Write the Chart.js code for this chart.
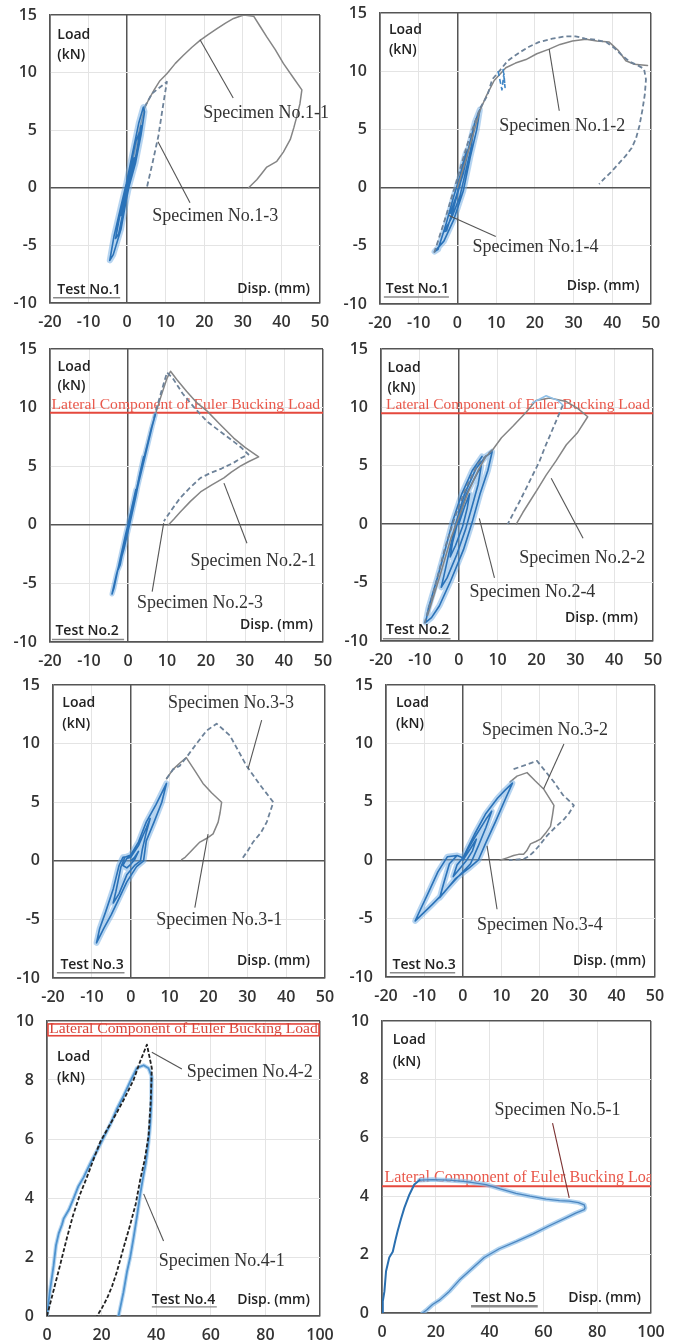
<!DOCTYPE html>
<html>
<head>
<meta charset="utf-8">
<script src="https://cdn.jsdelivr.net/npm/chart.js@4.4.1/dist/chart.umd.min.js"></script>
<style>
html,body{margin:0;padding:0;background:#fff;}
#page{position:relative;width:673px;height:1343px;overflow:hidden;background:#fff;}
#page canvas{position:absolute;}
</style>
</head>
<body>
<div id="page"></div>
<script>
// tick labels
const xTicks50 = [-20,-10,0,10,20,30,40,50];
const yTicks15 = [-10,-5,0,5,10,15];
const xTicks100 = [0,20,40,60,80,100];
const yTicks10 = [0,2,4,6,8,10];

// lateral component of Euler buckling load (kN)
const eulerTest2 = 9.55;
const eulerTest4 = [9.5, 9.9];
const eulerTest5 = 4.34;

// Test No.1 (left): No.1-1 solid, No.1-3 dashed + cycles
const p1Gray = [[0,0],[1.5,2.4],[3,4.8],[4.5,6.9],[5.5,7.6],[7,8.5],[8.5,9.3],[10.3,9.9],[12.5,10.8],[14.6,11.5],[16.8,12.2],[18.9,12.8],[21,13.3],[23.2,13.8],[25.5,14.3],[27.6,14.7],[30.2,15],[32.8,14.9],[34.5,14],[36.2,13.1],[38.4,12],[40.5,10.8],[43,9.6],[45.3,8.5],[44.8,7.3],[44,6.2],[43.2,5.2],[42.3,4.2],[40.5,3.1],[38.8,2.3],[36.2,1.8],[34.8,1.2],[33.6,0.7],[31.5,0]];
const p1Dash = [[4.5,7],[6.5,8.2],[10.3,9.2],[9.2,6.9],[8.1,4.5],[6.6,2.2],[5.1,0]];
const p1Blue = [[0,0],[1,1.2],[1.8,2.6],[1.2,2.2],[0.2,0.4],[-0.8,-1],[-1.6,-2.4],[-1,-2],[0,-0.4],[1.6,1.6],[2.8,3.8],[3.2,4.8],[2.2,4],[0.8,1.8],[-0.6,-0.4],[-2,-2.6],[-3,-4.4],[-2.2,-4],[-1,-2],[0.4,0],[2.2,2.2],[3.6,4.6],[4.5,6.6],[4.2,7],[3,5.6],[1.4,3],[-0.2,0.4],[-1.6,-1.6],[-3.4,-4.2],[-4.5,-6.3],[-3.6,-5.8],[-1.6,-3.6],[-0.2,-1],[0.8,0.6],[2.4,3],[3.6,5.4]];

// Test No.1 (right): No.1-2, No.1-4
const p2Gray = [[0,0],[2,2.2],[4,4.5],[5.8,6.6],[7.5,7.9],[9.5,9.2],[12.5,10.3],[15,10.7],[17.7,11],[20.5,11.5],[23.7,11.9],[26.5,12.3],[29.7,12.6],[33.2,12.75],[36,12.6],[39.2,12.5],[41.5,11.8],[43.5,10.9],[45.7,10.6],[49.1,10.5]];
const p2Dash = [[-6,-5.6],[-3,-2.5],[0,0.8],[3,4.2],[5.8,6.8],[7.7,7.9],[9,9.3],[10.8,10],[13,10.9],[16,11.6],[18.5,12.1],[21,12.5],[24.5,12.8],[28,13],[30.5,13],[33,12.8],[35.7,12.7],[38.4,12.5],[40.5,12],[42.7,11.3],[44.6,10.8],[46.6,10.5],[48.2,10.2],[48.7,9.3],[48.4,8],[47.8,6.7],[47,5.3],[46.1,4.2],[45,3.4],[43.4,2.7],[41.5,2],[39.6,1.3],[38,0.8],[36.6,0.3]];
const p2Blue = [[0,0],[1.2,1.8],[2.2,3],[1.5,1.5],[0.5,0],[-0.8,-1.2],[-1.8,-2.2],[-1,-1.6],[0,-0.4],[1.5,1.2],[3.2,3.8],[4.2,5],[3.5,3.4],[2,1.2],[0.6,-0.8],[-1.5,-2.6],[-3.5,-3.8],[-2.8,-3.7],[-1.2,-2],[0.2,-0.3],[2,2.2],[4.5,5.6],[5.8,6.7],[5,5],[3.3,2.6],[1.5,-0.3],[-1,-2.8],[-3.5,-4.6],[-5.9,-5.5],[-5,-5.3],[-3,-3.2],[-1,-0.8],[0.5,0.8],[2.5,3.2]];
const p2Blue2 = [[10.5,10],[11.5,8.4],[12,9.8],[12.3,8.6],[11.8,10.2]];

// Test No.2 (left): No.2-1, No.2-3
const p3Gray = [[0,0],[2,2.8],[4,5.6],[6,8.3],[7,9.4],[8.5,11],[10,12.5],[10.9,13.1],[12.5,12.4],[15,11.4],[17.7,10.4],[20.3,9.7],[23.5,8.6],[27.1,7.4],[30,6.6],[33.5,5.8],[31,5.4],[28.8,5],[26.5,4.5],[24.6,4],[21.5,3.4],[18.6,2.8],[16,2],[13.4,1.1],[11.8,0.5],[10.4,0]];
const p3Dash = [[6.6,9.1],[8.5,11.3],[10,13],[11.5,12.5],[14,11.2],[17,10],[20.3,8.8],[23.5,8],[27.1,7.1],[29,6.6],[30.9,6],[29,5.7],[27.1,5.3],[24,4.8],[21,4.4],[18.6,4],[16,3.2],[13.4,2.3],[11,1.2],[9.2,0.3]];
const p3Blue = [[0,0],[1,1.5],[2,3],[1.3,1.8],[0.3,0],[-0.7,-1.3],[-1.5,-2.4],[-0.9,-1.6],[0,-0.3],[1.5,1.8],[3,4.3],[4,5.8],[3.3,4.6],[2,2.4],[0.6,0.3],[-1,-2],[-2.5,-3.8],[-2,-3.4],[-0.8,-1.4],[0.3,0.2],[2.2,2.8],[4.5,6.2],[6,8.2],[7,9.4],[6.2,8.4],[4.2,5.6],[2,2.6],[0.3,0.2],[-1.5,-2.4],[-3,-4.3],[-4.1,-5.9],[-3.6,-5.4],[-2.2,-3.2],[-0.6,-0.8],[0.8,1.1]];

// Test No.2 (right): No.2-2, No.2-4
const p4Gray = [[-8,-7.8],[-5,-4.6],[-2,-1.2],[0,0.6],[2.5,2.8],[5,4.6],[7,5.8],[8.8,6.4],[11,7.4],[14,8.4],[17.4,9.6],[19.9,10.6],[23.4,10.8],[27.7,10.5],[30.7,9.9],[33.2,9.2],[30.5,7.8],[27.7,6.8],[25,5.4],[22.5,4.2],[20.3,3],[18.2,1.9],[16.5,1],[14.8,0]];
const p4Dash = [[-8.8,-8.5],[-6,-5.2],[-3.5,-2],[-1,0.6],[2,3.2],[5,5.2],[8.8,6.4]];
const p4Dash2 = [[26.8,10.2],[24,8],[22.2,6.6],[20.8,5.4],[18,3.5],[15.6,1.9],[14,0.9],[12.6,0]];
const p4Peak = [[19,10.4],[22.5,11],[25.5,10.6],[26.8,10.2]];
const p4Blue = [[0,0],[1.5,1.5],[2.8,2.6],[2.2,1.4],[1,-0.2],[-0.8,-1.8],[-2.2,-2.8],[-1.6,-1.6],[-0.4,0],[2,2.6],[4.2,4],[5.8,5],[5,3.4],[3.5,1.6],[1.8,-0.4],[-0.5,-2.6],[-3,-4.6],[-4.5,-5.4],[-3.8,-4.4],[-2.2,-2],[-0.8,0],[1.5,2.6],[4.5,4.8],[7,5.8],[8.6,6.2],[7.5,4.6],[5.5,2.6],[3.5,0.2],[1.2,-2.2],[-2,-4.8],[-5,-7],[-7,-8],[-8.5,-8.4],[-7.8,-7.2],[-5.5,-4.6],[-3.5,-2.2],[-1.6,0.2],[0.8,2.6],[3.5,4.6],[6,5.8]];

// Test No.3 (left): No.3-1, No.3-3
const p5Gray = [[9.2,7],[10.9,7.8],[12.5,8.3],[14.3,8.8],[16.5,7.7],[18.6,6.6],[20.8,5.8],[23.4,5],[23,4.1],[22.5,3.3],[21.2,2.3],[19.5,1.9],[17.8,1.6],[16.3,1.1],[15.2,0.7],[14,0.3],[13.1,0.1]];
const p5Dash = [[9.2,7],[10.9,7.8],[12.6,8.1],[14.5,8.9],[16.5,9.8],[19.5,11.1],[22.1,11.7],[23.8,11.2],[25.5,10.7],[27.5,9.5],[29.8,8.1],[33,6.6],[36.7,5],[35,3.3],[33.5,2.4],[31.5,1.6],[30,0.8],[28.5,0.1]];
const p5Blue = [[0,0],[1,0.3],[2,0.8],[1,0.1],[0,-0.3],[-1,-0.6],[-2,-0.4],[-1,0.2],[0,0.3],[2,1.3],[4,2.8],[5,3.6],[4,2.4],[3,1],[2.5,0],[1,-0.4],[-1,-1.2],[-3,-2.8],[-4.5,-3.6],[-3.8,-2.6],[-2.5,-0.5],[-1.5,0.3],[0,0.5],[2,1.6],[4,3.3],[6.5,4.8],[8,5.8],[9.2,6.6],[8,5],[6,3.3],[4,1.7],[3.3,0],[1.5,-0.5],[-1,-1.8],[-3,-3.2],[-5,-4.6],[-7,-5.8],[-8.8,-7],[-8,-5.8],[-6.5,-4.4],[-4.5,-2.4],[-3,-0.4],[-2,0.3],[0,0.4]];

// Test No.3 (right): No.3-2, No.3-4
const p6Gray = [[12.3,6.7],[14.1,7.2],[16.7,7.5],[18.8,6.8],[21,6.1],[23.7,4.7],[23.3,3.8],[22.8,2.9],[21.5,2.3],[20.2,1.8],[19,1.6],[17.6,1.4],[16.6,0.8],[15.8,0.5],[14.5,0.5],[13.2,0.4],[11.5,0.2],[9.7,0]];
const p6Dash = [[13.2,7.8],[15,8],[16.7,8.2],[19.3,8.5],[21.5,7.6],[23.7,6.7],[26,5.6],[28.9,4.7],[27.6,4],[26.3,3.5],[24,2.8],[21.9,2.1],[20,1.3],[18.4,0.7],[17,0.3],[15.8,0.1],[12,0]];
const p6Blue = [[0,0],[2,1],[3.5,1.8],[2.5,0.8],[1,0],[-1,-0.8],[-2.5,-1.4],[-1.5,-0.4],[0,0.2],[3,1.9],[6,3.5],[7.5,4.2],[6,2.8],[4,1.2],[2,-0.3],[-1.5,-1.5],[-4.5,-2.6],[-6,-3.2],[-5,-2],[-3.5,-0.3],[-1.5,0.4],[0,0.2],[3,2.2],[6,4],[9,5.3],[11,6],[12.9,6.6],[11,5.2],[8.5,3.3],[6,1.5],[4,0],[1.5,-0.7],[-2,-1.6],[-5,-2.8],[-8,-3.8],[-10.5,-4.6],[-12.4,-5.2],[-11,-4.2],[-9,-2.8],[-6.5,-1],[-4,0.3],[-1.5,0.4],[0,0.2]];

// Test No.4: No.4-2 dashed, No.4-1 blue
const p7Dash = [[0,0],[2.5,0.9],[5,1.8],[7.3,2.65],[9.5,3.4],[12,4.1],[14.6,4.7],[17,5.3],[19.5,5.9],[22.5,6.4],[25.6,6.9],[28.5,7.4],[31.7,8],[34,8.6],[36.6,9.2],[37.5,8.8],[38.4,8.4],[38,7.3],[37.2,6.1],[35.8,5.3],[34.1,4.6],[32.5,3.8],[30.5,3.1],[28,2.3],[25.6,1.5],[23.8,1],[22,0.6],[20,0.25],[18.3,0]];
const p7Blue = [[0,0],[1,0.8],[2.4,1.7],[3.3,2.4],[4.3,2.8],[5.5,3.1],[6.1,3.3],[8,3.6],[9.8,4],[11.5,4.4],[13.4,4.7],[16,5.2],[18.3,5.6],[21,6.1],[23.2,6.5],[25.5,7],[28,7.45],[30.5,7.95],[32.9,8.4],[35.4,8.5],[37.2,8.4],[38.4,8.1],[38.2,7.2],[37.8,6.5],[37.2,5.9],[36.2,5.2],[35,4.6],[34.1,4.1],[33,3.4],[31.7,2.65],[30.5,2],[29.3,1.5],[28,0.8],[26.2,0]];

// Test No.5: No.5-1
const p8Rise = [[0,0],[0.3,0.4],[0.9,0.74],[1.5,1.43],[2.7,1.9],[4,2.1],[5,2.5],[5.8,2.8],[7,3.2],[8.3,3.6],[10.2,4.06],[12,4.4],[13.9,4.55]];
const p8Rest = [[13.9,4.55],[18.8,4.57],[25,4.55],[31.2,4.5],[38.7,4.4],[44,4.25],[49.8,4.1],[55,4],[61,3.9],[66,3.85],[69.6,3.83],[73,3.78],[75.2,3.7],[75.5,3.6],[75.2,3.54],[72,3.42],[68.4,3.26],[62,2.98],[56,2.7],[50,2.45],[43.6,2.2],[38,1.9],[33.7,1.54],[29,1.15],[25,0.74],[21.5,0.45],[18.8,0.29],[16.8,0.12],[15.1,0]];

const page = document.getElementById('page');
const SANS = '"Open Sans", "Noto Sans", sans-serif';
const SERIF = '"Liberation Serif", "Times New Roman", serif';
const EULER_TEXT = 'Lateral Component of Euler Bucking Load';

const GRAY = '#858585', DASH = '#6d8299', BLUE = '#2a72b8', HALO = 'rgba(110,170,225,0.5)';

// dataset helpers
function solid(d, c, w){ return {d, c: c || GRAY, w: w || 1.5}; }
function dashed(d, c, w, dash){ return {d, c: c || DASH, w: w || 1.8, dash: dash || [5,3]}; }
function blue(d, hw){ return [{d, c: HALO, w: hw || 5}, {d, c: BLUE, w: 1.6}]; }

// annotation helpers
function txt(x, y, s, align){ return {k:'text', x, y, s, align: align || 'left', font: '600 14px ' + SANS, color: '#222'}; }
function spec(x, y, s){ return {k:'text', x, y, s, align:'left', font: '18px ' + SERIF, color: '#333'}; }
function lead(a, b, color){ return {k:'line', pts:[a, b], color: color || '#555', w: 1.1}; }
function uline(x0, x1, y, w){ return {k:'line', pts:[[x0,y],[x1,y]], color:'#8a8a8a', w: w || 1.5}; }
function euler(y, ty, x0, x1){ return {k:'euler', under:true, y, ty, x0, x1}; }

function drawMarks(chart, list){
  const {ctx, chartArea:a} = chart;
  const sx = chart.scales.x, sy = chart.scales.y;
  list.forEach(m => {
    ctx.save();
    if(m.k === 'line'){
      ctx.strokeStyle = m.color; ctx.lineWidth = m.w;
      ctx.beginPath();
      m.pts.forEach((p, i) => {
        const px = sx.getPixelForValue(p[0]), py = sy.getPixelForValue(p[1]);
        i ? ctx.lineTo(px, py) : ctx.moveTo(px, py);
      });
      ctx.stroke();
    } else if(m.k === 'text'){
      ctx.font = m.font; ctx.fillStyle = m.color;
      ctx.textAlign = m.align; ctx.textBaseline = 'middle';
      ctx.fillText(m.s, sx.getPixelForValue(m.x), sy.getPixelForValue(m.y));
    } else if(m.k === 'euler' || m.k === 'eulerBox'){
      ctx.beginPath(); ctx.rect(a.left, a.top - 2, a.right - a.left, a.bottom - a.top + 2); ctx.clip();
      const x0 = sx.getPixelForValue(m.x0), x1 = sx.getPixelForValue(m.x1);
      ctx.font = '14px ' + SERIF;
      const size = 14 * (x1 - x0) / ctx.measureText(EULER_TEXT).width;
      ctx.font = size.toFixed(2) + 'px ' + SERIF;
      ctx.strokeStyle = '#e5483d';
      if(m.k === 'euler'){
        ctx.lineWidth = 2;
        const py = sy.getPixelForValue(m.y);
        ctx.beginPath(); ctx.moveTo(a.left, py); ctx.lineTo(a.right, py); ctx.stroke();
        ctx.fillStyle = '#e9584b';
      } else {
        ctx.lineWidth = 1.6;
        const t = sy.getPixelForValue(m.y[1]), b = sy.getPixelForValue(m.y[0]);
        ctx.strokeRect(a.left + 1, t, a.right - a.left - 2, b - t);
        ctx.fillStyle = '#d8453a';
      }
      ctx.textAlign = 'left'; ctx.textBaseline = 'middle';
      ctx.fillText(EULER_TEXT, x0, sy.getPixelForValue(m.ty));
    }
    ctx.restore();
  });
}

function makePanel(box, xt, yt, sets, marks){
  const pr = xt[xt.length - 1] >= 100 ? 16 : 12;
  const yw = 45;
  const w = box.R - box.L + yw + pr, h = box.B - box.T + 50;
  const cv = document.createElement('canvas');
  cv.width = w; cv.height = h;
  cv.style.left = (box.L - yw) + 'px'; cv.style.top = (box.T - 15) + 'px';
  cv.style.width = w + 'px'; cv.style.height = h + 'px';
  page.appendChild(cv);

  const flat = [];
  sets.forEach(s => Array.isArray(s) ? flat.push(...s) : flat.push(s));
  // first dataset is drawn on top, so reverse the bottom->top list
  const datasets = flat.reverse().map(s => ({
    data: s.d.map(p => ({x: p[0], y: p[1]})),
    showLine: true, pointRadius: 0, fill: false,
    borderColor: s.c, borderWidth: s.w, borderDash: s.dash || [],
    borderJoinStyle: 'round', borderCapStyle: s.dash ? 'butt' : 'round'
  }));

  const isEdge = (ticks, c) => {
    const v = c.tick ? c.tick.value : null;
    return v === 0 || v === ticks[0] || v === ticks[ticks.length - 1];
  };
  const tickFont = {family: SANS, size: 16, weight: '600'};

  new Chart(cv, {
    type: 'scatter',
    data: {datasets},
    options: {
      responsive: false, animation: false, events: [],
      layout: {padding: {left: 0, top: 15, right: pr, bottom: 0}},
      plugins: {legend: {display: false}, tooltip: {enabled: false}},
      scales: {
        x: {
          type: 'linear', min: xt[0], max: xt[xt.length - 1],
          afterBuildTicks: s => { s.ticks = xt.map(v => ({value: v})); },
          afterFit: s => { s.height = 35; s.paddingLeft = 0; s.paddingRight = 0; },
          grid: {color: c => isEdge(xt, c) ? '#555' : '#e4e4e4', lineWidth: c => isEdge(xt, c) ? 1.5 : 1, drawTicks: false},
          border: {color: '#555', width: 1.5},
          ticks: {padding: 10, color: '#333', font: tickFont, maxRotation: 0, autoSkip: false}
        },
        y: {
          type: 'linear', min: yt[0], max: yt[yt.length - 1],
          afterBuildTicks: s => { s.ticks = yt.map(v => ({value: v})); },
          afterFit: s => { s.width = yw; s.paddingTop = 0; s.paddingBottom = 0; },
          grid: {color: c => isEdge(yt, c) ? '#555' : '#e4e4e4', lineWidth: c => isEdge(yt, c) ? 1.5 : 1, drawTicks: false},
          border: {color: '#555', width: 1.5},
          ticks: {padding: 13, color: '#333', font: tickFont, autoSkip: false}
        }
      }
    },
    plugins: [{
      id: 'notes',
      beforeDatasetsDraw: c => drawMarks(c, marks.filter(m => m.under)),
      afterDatasetsDraw: c => drawMarks(c, marks.filter(m => !m.under))
    }]
  });
}

// Test No.1
makePanel({L:50, T:15, R:320, B:303}, xTicks50, yTicks15,
  [solid(p1Gray), dashed(p1Dash), ...blue(p1Blue, 6)],
  [txt(-18.1,13.3,'Load'), txt(-18.1,11.5,'(kN)'), txt(-18.1,-8.85,'Test No.1'), uline(-19.2,-1.8,-9.55),
   txt(47.4,-8.8,'Disp. (mm)','right'),
   spec(19.7,6.5,'Specimen No.1-1'), lead([18.9,12.85],[27.5,7.8]),
   spec(6.5,-2.5,'Specimen No.1-3'), lead([8,4],[16.3,-1.3])]);

makePanel({L:380, T:13, R:651, B:304}, xTicks50, yTicks15,
  [...blue(p2Blue, 6), solid(p2Gray), dashed(p2Dash), dashed(p2Blue2, '#3f86c6', 1.6)],
  [txt(-17.7,13.55,'Load'), txt(-17.7,11.8,'(kN)'), txt(-18.5,-8.75,'Test No.1'), uline(-19,-2.2,-9.4),
   txt(47,-8.45,'Disp. (mm)','right'),
   spec(10.8,5.3,'Specimen No.1-2'), lead([23.7,11.9],[26.3,6.6]),
   spec(3.9,-5.15,'Specimen No.1-4'), lead([-2.2,-2.4],[9.9,-4.2])]);

// Test No.2
makePanel({L:50, T:349, R:323, B:642}, xTicks50, yTicks15,
  [solid(p3Gray), dashed(p3Dash), ...blue(p3Blue, 5)],
  [euler(eulerTest2, 10.2, -19.6, 49.3),
   txt(-18.05,13.5,'Load'), txt(-18.05,11.8,'(kN)'), txt(-18.6,-9.05,'Test No.2'), uline(-19.5,-1,-9.78),
   txt(47.4,-8.55,'Disp. (mm)','right'),
   spec(16,-3.1,'Specimen No.2-1'), lead([24.6,3.56],[30.5,-1.57]),
   spec(2.3,-6.7,'Specimen No.2-3'), lead([9.15,0.14],[6.2,-5.7])]);

makePanel({L:381, T:349, R:653, B:641}, xTicks50, yTicks15,
  [...blue(p4Blue, 6), solid(p4Gray), dashed(p4Dash), dashed(p4Dash2), solid(p4Peak, '#8fc0e8', 1.5)],
  [euler(eulerTest2 - 0.05, 10.2, -18.7, 49.2),
   txt(-18.3,13.4,'Load'), txt(-18.3,11.7,'(kN)'), txt(-18.7,-9.05,'Test No.2'), uline(-19.5,-2.1,-9.8),
   txt(46.1,-8.05,'Disp. (mm)','right'),
   spec(15.6,-2.9,'Specimen No.2-2'), lead([23.8,3.94],[32,-1.2]),
   spec(2.75,-5.8,'Specimen No.2-4'), lead([5.3,0.5],[9.2,-4.6])]);

// Test No.3
makePanel({L:53, T:685, R:325, B:978}, xTicks50, yTicks15,
  [solid(p5Gray), dashed(p5Dash), ...blue(p5Blue, 6)],
  [txt(-17.6,13.45,'Load'), txt(-17.6,11.7,'(kN)'), txt(-18.1,-8.9,'Test No.3'), uline(-19,-1.6,-9.55),
   txt(46.1,-8.55,'Disp. (mm)','right'),
   spec(9.6,13.4,'Specimen No.3-3'), lead([33.7,12],[30.2,7.84]),
   spec(6.6,-5.1,'Specimen No.3-1'), lead([19.9,2.28],[16.5,-4])]);

makePanel({L:386, T:685, R:655, B:977}, xTicks50, yTicks15,
  [solid(p6Gray), dashed(p6Dash), ...blue(p6Blue, 6)],
  [txt(-17.4,13.45,'Load'), txt(-17.4,11.7,'(kN)'), txt(-18.3,-9,'Test No.3'), uline(-19,-2,-9.64),
   txt(47.6,-8.6,'Disp. (mm)','right'),
   spec(5,11.1,'Specimen No.3-2'), lead([26.3,9.95],[21,6.1]),
   spec(3.65,-5.6,'Specimen No.3-4'), lead([6.3,1.23],[8.9,-4.2])]);

// Test No.4
makePanel({L:47, T:1021, R:320, B:1316}, xTicks100, yTicks10,
  [{d: p7Blue, c: 'rgba(140,190,232,0.6)', w: 4}, {d: p7Blue, c: '#4f93cf', w: 1.8}, dashed(p7Dash, '#222', 1.8, [4,2])],
  [{k:'eulerBox', under:true, y: eulerTest4, ty: 9.72, x0: 0.8, x1: 99.2},
   txt(3.7,8.77,'Load'), txt(3.7,8.08,'(kN)'), txt(38.4,0.54,'Test No.4'), uline(38.4,62.2,0.31,1.2),
   txt(96.3,0.54,'Disp. (mm)','right'),
   spec(51.2,8.25,'Specimen No.4-2'), lead([38.4,8.94],[49.4,8.37]),
   spec(40.9,1.85,'Specimen No.4-1'), lead([35.4,4.14],[42.7,2.54])]);

// Test No.5
makePanel({L:382, T:1021, R:651, B:1313}, xTicks100, yTicks10,
  [{d: p8Rest, c: 'rgba(140,190,232,0.7)', w: 4.5}, {d: p8Rest, c: '#4b86c0', w: 1.3}, {d: p8Rise, c: '#2a6fb0', w: 2}],
  [euler(eulerTest5, 4.63, 0.9, 103.8),
   txt(4,9.34,'Load'), txt(4,8.6,'(kN)'), txt(33.7,0.51,'Test No.5'), uline(33.1,57.9,0.23,2.5),
   txt(96.3,0.51,'Disp. (mm)','right'),
   spec(41.8,6.94,'Specimen No.5-1'), lead([63.4,6.5],[69.6,3.94],'#7a3030')]);
</script>
</body>
</html>
